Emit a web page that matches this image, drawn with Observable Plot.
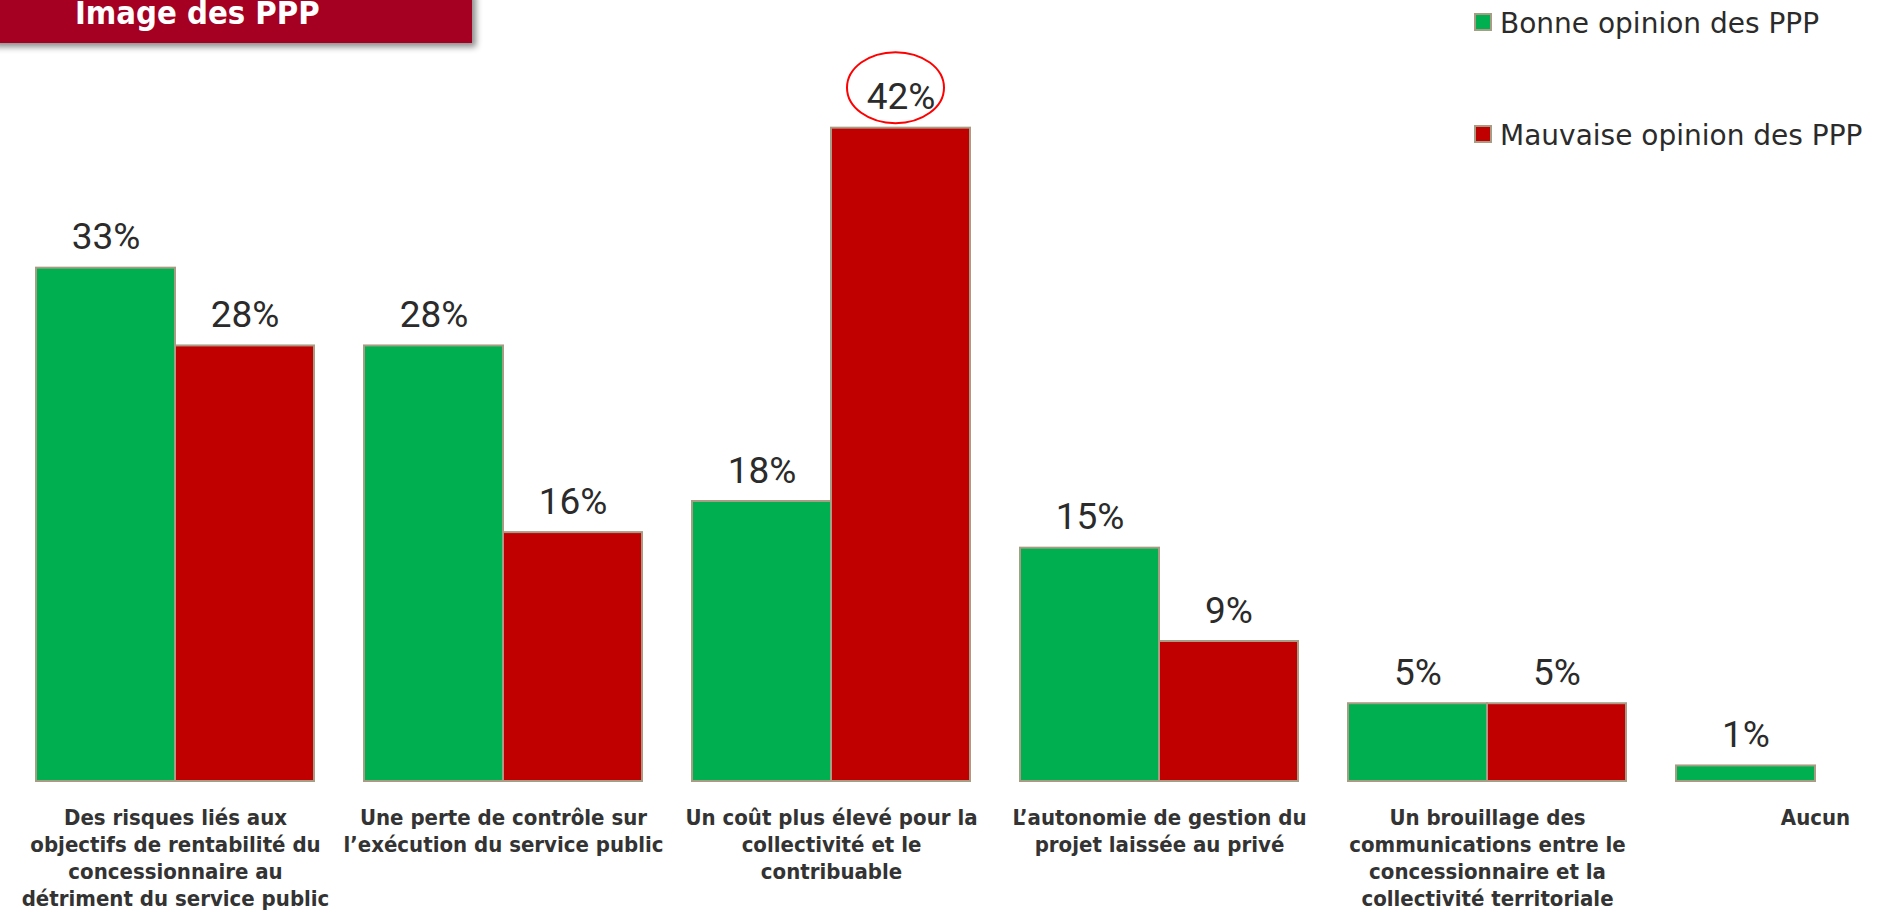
<!DOCTYPE html>
<html>
<head>
<meta charset="utf-8">
<script src="https://cdn.jsdelivr.net/npm/d3@7"></script>
<script src="https://cdn.jsdelivr.net/npm/@observablehq/plot@0.6"></script>
<style>
  html, body { margin: 0; padding: 0; background: #fff; overflow: hidden; width: 1880px; height: 915px; }
  #wrap { position: relative; width: 1880px; height: 915px; overflow: hidden; }
  #chart { position: absolute; left: 0; top: 0; width: 1954px; height: 915px; }
  #chart svg { max-width: none !important; width: 1954px !important; height: 915px !important; }
  #overlay { position: absolute; left: 0; top: 0; pointer-events: none; }
</style>
</head>
<body>
<div id="wrap">
  <div id="chart"></div>
  <svg id="overlay" width="1880" height="915"></svg>
</div>
<script>
// ---- data ----
const titleText = "Image des PPP";
const categories = [
  "Des risques liés aux\nobjectifs de rentabilité du\nconcessionnaire au\ndétriment du service public",
  "Une perte de contrôle sur\nl’exécution du service public",
  "Un coût plus élevé pour la\ncollectivité et le\ncontribuable",
  "L’autonomie de gestion du\nprojet laissée au privé",
  "Un brouillage des\ncommunications entre le\nconcessionnaire et la\ncollectivité territoriale",
  "Aucun"
];
const series = ["Bonne opinion des PPP", "Mauvaise opinion des PPP"];
const bonne = [33, 28, 18, 15, 5, 1];
const mauvaise = [28, 16, 42, 9, 5, null];
const seriesColors = ["#00B050", "#C00000"];
const highlightCategoryIndex = 2; // 42% circled
const highlightSeriesIndex = 1;

// ---- build table ----
const rows = [];
categories.forEach((c, i) => {
  if (bonne[i] != null) rows.push({cat: c, series: series[0], value: bonne[i]});
  if (mauvaise[i] != null) rows.push({cat: c, series: series[1], value: mauvaise[i]});
});
const labelRows = categories.map(c => ({cat: c}));
const highlight = rows.filter(r => r.cat === categories[highlightCategoryIndex] && r.series === series[highlightSeriesIndex]);

const borderColor = "#A89C84";
const textColor = "#2b2b2b";
const valueFont = "Roboto, 'DejaVu Sans Condensed', sans-serif";
const condFont = "'DejaVu Sans Condensed', 'DejaVu Sans', sans-serif";

const chart = Plot.plot({
  width: 1954,
  height: 915,
  marginLeft: 36,
  marginRight: 0,
  marginTop: 81,
  marginBottom: 134,
  style: {background: "transparent", maxWidth: "none"},
  fx: {domain: categories, paddingInner: 50 / 328, paddingOuter: 0, axis: null},
  x: {domain: series, padding: 0, axis: null},
  y: {domain: [0, 45], axis: null},
  color: {domain: series, range: seriesColors},
  marks: [
    Plot.barY(rows, {
      fx: "cat", x: "series", y: "value", fill: "series",
      stroke: borderColor, strokeWidth: 2
    }),
    Plot.text(rows, {
      fx: "cat", x: "series", y: "value", text: d => d.value + "%",
      lineAnchor: "bottom", dy: -19,
      fontSize: 37, fontFamily: valueFont, fill: textColor
    }),
    Plot.text(labelRows, {
      fx: "cat", text: "cat", frameAnchor: "bottom", dy: 24,
      lineAnchor: "top", lineHeight: 27 / 22,
      fontSize: 22, fontWeight: "bold", fontFamily: condFont, fill: "#333333"
    }),
    Plot.dot(highlight, {
      fx: "cat", x: "series", y: "value", r: 1,
      render(index, scales, values, dimensions, context, next) {
        const bw = scales.x && typeof scales.x.bandwidth === "function" ? scales.x.bandwidth() : 0;
        const g = d3.create("svg:g");
        for (const i of index) {
          g.append("ellipse")
            .attr("cx", values.x[i] + bw / 2 - 5)
            .attr("cy", values.y[i] - 40)
            .attr("rx", 48.5)
            .attr("ry", 35.5)
            .attr("fill", "none")
            .attr("stroke", "#FF0000")
            .attr("stroke-width", 2);
        }
        return g.node();
      }
    })
  ]
});
document.getElementById("chart").appendChild(chart);

// ---- overlay: title banner and legend ----
const ov = d3.select("#overlay");
const defs = ov.append("defs");
const f = defs.append("filter").attr("id", "shadow").attr("x", "-10%").attr("y", "-50%").attr("width", "130%").attr("height", "220%");
f.append("feDropShadow").attr("dx", 4).attr("dy", 4).attr("stdDeviation", 3).attr("flood-color", "#000").attr("flood-opacity", 0.45);
ov.append("rect").attr("x", -10).attr("y", -10).attr("width", 482).attr("height", 53)
  .attr("fill", "#A50021").attr("filter", "url(#shadow)");
ov.append("text").attr("x", 75).attr("y", 24)
  .attr("font-family", condFont).attr("font-weight", "bold").attr("font-size", 32.5)
  .attr("fill", "#ffffff").text(titleText);

const legendY = [14, 126];
series.forEach((s, i) => {
  ov.append("rect").attr("x", 1475).attr("y", legendY[i]).attr("width", 16).attr("height", 16)
    .attr("fill", seriesColors[i]).attr("stroke", borderColor).attr("stroke-width", 2);
  ov.append("text").attr("x", 1500).attr("y", legendY[i] + 19)
    .attr("font-family", "'DejaVu Sans', sans-serif").attr("font-size", 28)
    .attr("fill", textColor).text(s);
});
</script>
</body>
</html>
